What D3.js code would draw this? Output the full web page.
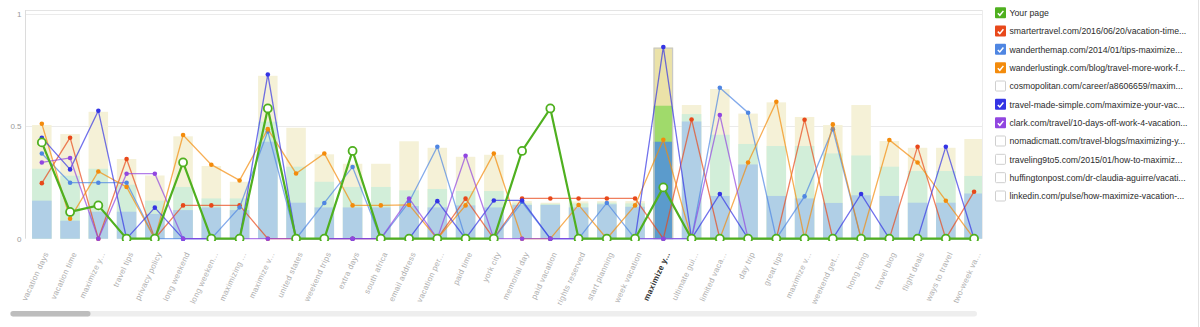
<!DOCTYPE html>
<html>
<head>
<meta charset="utf-8">
<script src="https://cdn.jsdelivr.net/npm/d3@7"></script>
<style>
  html, body { margin: 0; padding: 0; background: #fff; }
  svg { display: block; font-family: Arial, "Liberation Sans", sans-serif; }
</style>
</head>
<body>
<svg id="chart" width="1200" height="327"></svg>
<script>
// Keywords along the x axis (index 22 is the selected keyword)
const keywords = [
  "vacation days", "vacation time", "maximize y...", "travel tips", "privacy policy",
  "long weekend", "long weeken...", "maximizing ...", "maximize v...", "united states",
  "weekend trips", "extra days", "south africa", "email address", "vacation per...",
  "paid time", "york city", "memorial day", "paid vacation", "rights reserved",
  "start planning", "week vacation", "maximize y...", "ultimate gui...", "limited vaca...",
  "day trip", "great tips", "maximize v...", "weekend get...", "hong kong",
  "travel blog", "flight deals", "ways to travel", "two-week va..."
];
const selectedKeyword = 22;

// Overlapping range bars per keyword
const barUpper = [
  0.505, 0.465, 0.564, 0.354, 0.281, 0.455, 0.323, 0.253, 0.724, 0.493,
  0.375, 0.333, 0.333, 0.433, 0.404, 0.364, 0.373, 0.167, 0.160, 0.166,
  0.167, 0.167, 0.849, 0.594, 0.665, 0.556, 0.606, 0.541, 0.505, 0.594,
  0.434, 0.404, 0.404, 0.443
];
const barMiddle = [
  0.311, 0.280, 0.311, 0.240, 0.169, 0.230, 0.179, 0.179, 0.520, 0.320,
  0.253, 0.230, 0.230, 0.215, 0.221, 0.212, 0.212, 0.157, 0.155, 0.157,
  0.160, 0.157, 0.591, 0.554, 0.462, 0.421, 0.412, 0.412, 0.379, 0.370,
  0.320, 0.301, 0.301, 0.279
];
const barLower = [
  0.169, 0.080, 0.120, 0.120, 0.110, 0.127, 0.139, 0.127, 0.431, 0.160,
  0.139, 0.139, 0.139, 0.145, 0.139, 0.148, 0.139, 0.150, 0.150, 0.139,
  0.153, 0.142, 0.431, 0.521, 0.190, 0.330, 0.190, 0.179, 0.159, 0.193,
  0.190, 0.160, 0.160, 0.201
];

// Page scores per keyword
const yourPage = [
  0.428, 0.119, 0.148, 0, 0, 0.339, 0, 0, 0.579, 0,
  0, 0.390, 0, 0, 0, 0, 0, 0.390, 0.579, 0,
  0, 0, 0.228, 0, 0, 0, 0, 0, 0, 0,
  0, 0, 0, 0
];
const smartertravel = [
  0.247, 0.449, 0, 0.354, 0, 0.148, 0.148, 0.148, 0, 0,
  0, 0, 0, 0, 0, 0.178, 0, 0.179, 0.179, 0.179,
  0.179, 0.179, 0, 0.530, 0, 0, 0, 0.529, 0, 0,
  0, 0.409, 0, 0.209
];
const wanderthemap = [
  0.379, 0.249, 0.249, 0.249, 0, 0, 0, 0.139, 0.477, 0,
  0.159, 0.319, 0, 0.163, 0.409, 0, 0, 0.163, 0, 0,
  0.159, 0, 0, 0, 0.671, 0.560, 0, 0.188, 0.487, 0,
  0, 0, 0, 0
];
const wanderlustingk = [
  0.511, 0.089, 0.299, 0.230, 0, 0.461, 0.329, 0.259, 0.487, 0.290,
  0.379, 0.148, 0.148, 0.150, 0, 0.148, 0.379, 0, 0, 0.150,
  0, 0.148, 0.440, 0, 0, 0.339, 0.609, 0, 0.508, 0,
  0.439, 0.339, 0.169, 0
];
const travelMadeSimple = [
  0.449, 0.308, 0.569, 0, 0.138, 0, 0, 0, 0.730, 0,
  0, 0, 0, 0, 0.167, 0, 0.170, 0.170, 0, 0,
  0, 0, 0.852, 0, 0.199, 0, 0, 0, 0, 0.199,
  0, 0, 0.409, 0
];
const clark = [
  0.339, 0.359, 0, 0.289, 0.289, 0, 0, 0, 0, 0,
  0, 0, 0, 0.179, 0, 0.369, 0, 0, 0, 0,
  0, 0, 0, 0, 0.550, 0, 0, 0, 0, 0,
  0, 0, 0, 0
];

// Legend entries
const legendLabels = [
  "Your page",
  "smartertravel.com/2016/06/20/vacation-time...",
  "wanderthemap.com/2014/01/tips-maximize...",
  "wanderlustingk.com/blog/travel-more-work-f...",
  "cosmopolitan.com/career/a8606659/maxim...",
  "travel-made-simple.com/maximize-your-vac...",
  "clark.com/travel/10-days-off-work-4-vacation...",
  "nomadicmatt.com/travel-blogs/maximizing-y...",
  "traveling9to5.com/2015/01/how-to-maximiz...",
  "huffingtonpost.com/dr-claudia-aguirre/vacati...",
  "linkedin.com/pulse/how-maximize-vacation-..."
];
const legendColors = [
  "#4fb01f", "#e8481a", "#4f86e2", "#f38b0c", null,
  "#3434e4", "#9146e0", null, null, null, null
];

const yTicks = [0, 0.5, 1];

// ---------------------------------------------------------------
const svg = d3.select("#chart");

const plot = { left: 25, right: 982, top: 10, bottom: 238.7 };

const y = d3.scaleLinear().domain([0, 1]).range([238.7, 13.7]);
const x = d3.scaleBand()
  .domain(d3.range(keywords.length))
  .range([27.7, 988.2])
  .paddingInner(0.31)
  .paddingOuter(0.155);
const cx = i => x(i) + x.bandwidth() / 2;

svg.append("defs").append("clipPath").attr("id", "plotClip")
  .append("rect")
  .attr("x", plot.left).attr("y", 0)
  .attr("width", plot.right - plot.left).attr("height", 241);

// frame + gridlines
svg.append("line")
  .attr("x1", plot.left).attr("x2", plot.right)
  .attr("y1", plot.top + 0.5).attr("y2", plot.top + 0.5)
  .attr("stroke", "#e4e4e4");
svg.append("line")
  .attr("x1", plot.right + 0.5).attr("x2", plot.right + 0.5)
  .attr("y1", plot.top).attr("y2", plot.bottom)
  .attr("stroke", "#ececec");
svg.append("g").selectAll("line")
  .data(yTicks.filter(d => d > 0))
  .join("line")
  .attr("x1", plot.left).attr("x2", plot.right)
  .attr("y1", d => Math.round(y(d)) + 0.5).attr("y2", d => Math.round(y(d)) + 0.5)
  .attr("stroke", "#ebebeb");

// y axis
const yAxis = svg.append("g")
  .attr("transform", `translate(${plot.left + 0.5},0)`)
  .call(d3.axisLeft(y).tickValues(yTicks).tickSize(0).tickPadding(4)
    .tickFormat(d => String(d)));
yAxis.select(".domain").attr("stroke", "#dcdcdc").attr("d", `M0,${plot.top}V${plot.bottom}`);
yAxis.selectAll("text").attr("fill", "#9a9a9a").style("font-size", "8px");

const chart = svg.append("g").attr("clip-path", "url(#plotClip)");

// range bars
const layers = [
  { values: barUpper,  color: "#f5f1d7", strong: "#ebe2a8" },
  { values: barMiddle, color: "#d2eed9", strong: "#a0da6b" },
  { values: barLower,  color: "#b0cfe6", strong: "#5b9bcc" }
];
layers.forEach(layer => {
  chart.append("g").selectAll("rect")
    .data(layer.values)
    .join("rect")
    .attr("x", (d, i) => x(i))
    .attr("width", x.bandwidth())
    .attr("y", d => y(d))
    .attr("height", d => y(0) - y(d))
    .attr("fill", (d, i) => i === selectedKeyword ? layer.strong : layer.color);
});
// outline of the selected keyword column
chart.append("rect")
  .attr("x", x(selectedKeyword) + 0.5)
  .attr("width", x.bandwidth() - 1)
  .attr("y", y(barUpper[selectedKeyword]) + 0.5)
  .attr("height", y(0) - y(barUpper[selectedKeyword]) - 0.5)
  .attr("fill", "none")
  .attr("stroke", "#c9c9c6")
  .attr("stroke-width", 1.2);

// competitor lines
const competitors = [
  { values: smartertravel,    color: legendColors[1] },
  { values: wanderthemap,     color: legendColors[2] },
  { values: wanderlustingk,   color: legendColors[3] },
  { values: travelMadeSimple, color: legendColors[5] },
  { values: clark,            color: legendColors[6] }
];
const line = d3.line().x((d, i) => cx(i)).y(d => y(d));

competitors.forEach(s => {
  const g = chart.append("g");
  g.append("path")
    .attr("d", line(s.values))
    .attr("fill", "none")
    .attr("stroke", s.color)
    .attr("stroke-opacity", 0.7)
    .attr("stroke-width", 1.3);
  g.selectAll("circle")
    .data(s.values)
    .join("circle")
    .attr("cx", (d, i) => cx(i))
    .attr("cy", d => y(d))
    .attr("r", 2.3)
    .attr("fill", s.color);
});

// own page line
const own = chart.append("g");
own.append("path")
  .attr("d", line(yourPage))
  .attr("fill", "none")
  .attr("stroke", legendColors[0])
  .attr("stroke-width", 2.2);
own.selectAll("circle")
  .data(yourPage)
  .join("circle")
  .attr("cx", (d, i) => cx(i))
  .attr("cy", d => y(d))
  .attr("r", 4)
  .attr("fill", "#fff")
  .attr("stroke", legendColors[0])
  .attr("stroke-width", 1.8);

// x axis labels
const xAxis = svg.append("g")
  .attr("transform", `translate(0,${plot.bottom})`)
  .call(d3.axisBottom(x).tickSize(0).tickFormat(i => keywords[i]));
xAxis.select(".domain").remove();
xAxis.selectAll("text")
  .attr("text-anchor", "end")
  .attr("dy", 0)
  .attr("y", 0)
  .attr("transform", "translate(7,15) rotate(-65)")
  .attr("fill", (d, i) => i === selectedKeyword ? "#333" : "#b0b0b0")
  .style("font-weight", (d, i) => i === selectedKeyword ? "bold" : "normal")
  .style("font-size", "8px")
  .style("letter-spacing", "0.3px");

// legend
const legend = svg.append("g");
legendLabels.forEach((label, i) => {
  const rowY = 12.7 + i * 18.33;
  const g = legend.append("g").attr("transform", `translate(995,${rowY})`);
  const c = legendColors[i];
  g.append("rect")
    .attr("x", c ? 0 : 0.5).attr("y", c ? -5.5 : -5)
    .attr("width", c ? 11 : 10).attr("height", c ? 11 : 10)
    .attr("rx", 1)
    .attr("fill", c || "#fff")
    .attr("stroke", c ? "none" : "#cfcfcf");
  if (c) {
    g.append("path")
      .attr("d", "M2.8,0.6 L4.8,2.6 L8.4,-1.8")
      .attr("fill", "none")
      .attr("stroke", "#fff")
      .attr("stroke-width", 1.5);
  }
  g.append("text")
    .attr("x", 14.5)
    .attr("y", 3.2)
    .attr("fill", "#2b2b2b")
    .style("font-size", "8.7px")
    .text(label);
});

// page edge line
svg.append("line")
  .attr("x1", 1198.5).attr("x2", 1198.5)
  .attr("y1", 0).attr("y2", 327)
  .attr("stroke", "#e2e2e2");

// horizontal scrollbar
svg.append("rect")
  .attr("x", 10).attr("y", 311).attr("width", 967).attr("height", 5.5)
  .attr("rx", 2.75).attr("fill", "#eeeeee");
svg.append("rect")
  .attr("x", 10.5).attr("y", 311).attr("width", 80).attr("height", 5.5)
  .attr("rx", 2.75).attr("fill", "#bdbdbd");
</script>
</body>
</html>
